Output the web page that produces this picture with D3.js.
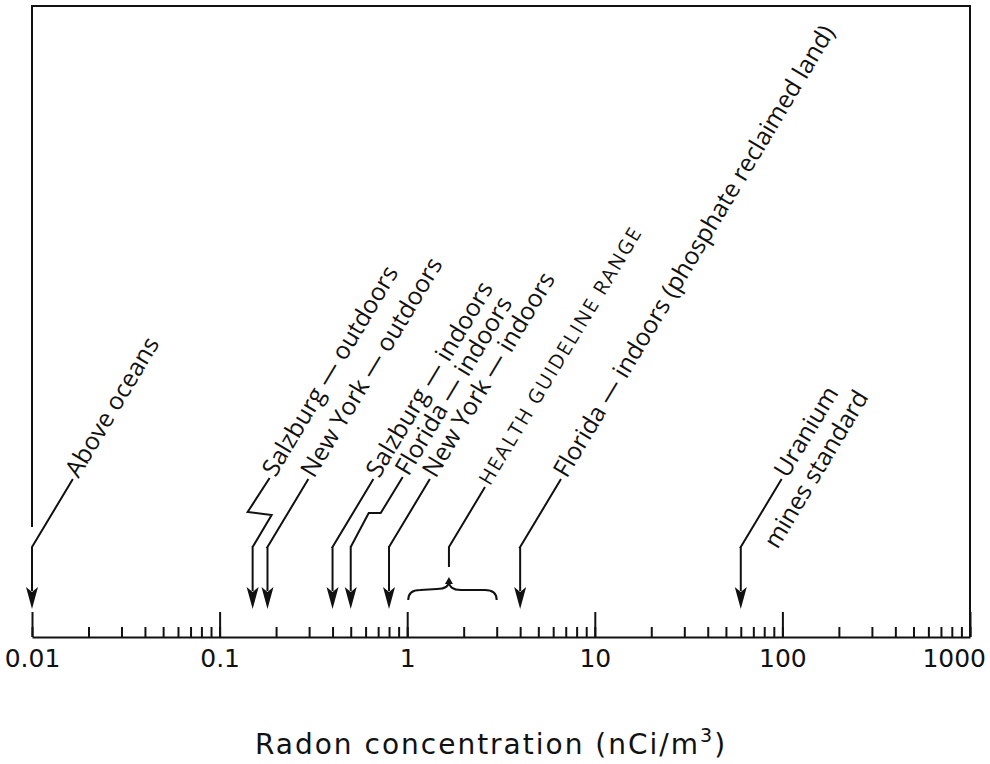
<!DOCTYPE html>
<html>
<head>
  <meta charset="utf-8">
  <title>Radon concentration</title>
  <script src="https://d3js.org/d3.v7.min.js"></script>
  <style>
    body { margin: 0; background: #fff; }
    .lbl { font-family: 'Open Sans', sans-serif; font-size: 24.5px; fill: #111; }
    .caps { font-family: 'Open Sans', sans-serif; font-size: 20px; letter-spacing: 2px; fill: #111; }
    .axis text { font-family: 'DejaVu Sans', sans-serif; font-size: 25px; fill: #111; }
    .axis line, .axis path { stroke: #111; stroke-width: 2px; }
    .title { font-family: 'DejaVu Sans', sans-serif; font-size: 28px; letter-spacing: 2px; fill: #111; }
  </style>
</head>
<body>
  <div id="chart"></div>
  <script>
    // sources and their radon levels (nCi/m3)
    const sources = ["Above oceans", "Salzburg — outdoors", "New York — outdoors",
      "Salzburg — indoors", "Florida — indoors", "New York — indoors",
      "Florida — indoors (phosphate reclaimed land)", "Uranium\nmines standard"];
    const levels = [0.01, 0.15, 0.18, 0.4, 0.5, 0.8, 4, 60];
    // how each leader line bends
    const leaderKind = ["plain", "zig", "plain", "plain", "step", "plain", "plain", "plain"];

    const guideRange = [1, 3];
    const guideLabel = "HEALTH GUIDELINE RANGE";

    const decades = [0.01, 0.1, 1, 10, 100, 1000];
    const axisTitle = "Radon concentration (nCi/m";

    const W = 990, H = 764;
    const axisY = 637, frameTop = 6;
    const tipY = 609, bendY = 547, headLen = 22, headHalf = 6;
    const ang = 59 * Math.PI / 180;
    const rise = 68;

    const svg = d3.select("#chart").append("svg")
      .attr("width", W).attr("height", H);
    svg.append("rect").attr("width", W).attr("height", H).attr("fill", "#fff");

    const x = d3.scaleLog().domain([0.01, 1000]).range([32, 970]);

    // frame (left side stops above the first leader)
    const x0 = x.range()[0], x1 = x.range()[1];
    svg.append("path")
      .attr("d", `M${x0},527 L${x0},${frameTop} L${x1},${frameTop} L${x1},${axisY}`)
      .attr("fill", "none").attr("stroke", "#111").attr("stroke-width", 2);

    // minor ticks
    svg.append("g").attr("class", "axis")
      .attr("transform", `translate(0,${axisY})`)
      .call(d3.axisBottom(x).tickSizeInner(-10).tickSizeOuter(0).tickFormat(""));
    // decade ticks with labels
    const major = svg.append("g").attr("class", "axis")
      .attr("transform", `translate(0,${axisY})`)
      .call(d3.axisBottom(x).tickValues(decades).tickSizeInner(-25).tickSizeOuter(0)
        .tickPadding(12).tickFormat(d => String(d)));
    major.select(".domain").remove();
    major.selectAll(".tick text").each(function () {
      const t = d3.select(this);
      const w = this.getComputedTextLength();
      const tr = this.parentNode.getAttribute("transform");
      const tx = +tr.match(/translate\(([-\d.]+)/)[1];
      if (tx + w / 2 > W - 4) t.attr("x", W - 4 - w / 2 - tx);
      if (tx - w / 2 < 2) t.attr("x", 2 + w / 2 - tx);
    });

    const title = svg.append("text").attr("class", "title")
      .attr("x", (x0 + x1) / 2 - 10).attr("y", 754).attr("text-anchor", "middle");
    title.append("tspan").text(axisTitle);
    title.append("tspan").attr("dy", -12).attr("font-size", 19).text("3");
    title.append("tspan").attr("dy", 12).text(")");

    const ink = svg.append("g");

    function arrowHead(px) {
      ink.append("path")
        .attr("d", `M${px},${tipY} L${px - headHalf},${tipY - headLen} L${px},${tipY - headLen + 5} L${px + headHalf},${tipY - headLen} Z`)
        .attr("fill", "#111");
    }

    function leaderPath(px, kind) {
      const run = rise / Math.tan(ang);
      if (kind === "zig") {
        return [[px, bendY], [px + 19, bendY - 32], [px - 5, bendY - 35], [px + 17, bendY - 69]];
      }
      if (kind === "step") {
        return [[px, bendY], [px + 18, bendY - 34], [px + 30, bendY - 34], [px + 52, bendY - 70]];
      }
      return [[px, bendY], [px + run, bendY - rise]];
    }

    function placeLabel(end, lines, cls) {
      const g = ink.append("g")
        .attr("transform", `translate(${end[0] + 3 * Math.cos(ang)},${end[1] - 3 * Math.sin(ang)}) rotate(${-59})`);
      const first = g.append("text").attr("class", cls).attr("dy", "0.2em").text(lines[0]);
      if (lines.length > 1) {
        const len = first.node().getComputedTextLength();
        g.append("text").attr("class", cls).attr("x", len + 12).attr("y", 28)
          .attr("dy", "0.2em").attr("text-anchor", "end").text(lines[1]);
      }
    }

    const line = d3.line();

    levels.forEach((v, i) => {
      const px = x(v);
      const pts = leaderPath(px, leaderKind[i]);
      ink.append("path")
        .attr("d", `M${px},${tipY - headLen + 4} L${px},${bendY} ` + line(pts).replace(/^M/, "L"))
        .attr("fill", "none").attr("stroke", "#111").attr("stroke-width", 2);
      arrowHead(px);
      placeLabel(pts[pts.length - 1], sources[i].split("\n"), "lbl");
    });

    // health guideline brace
    const bx1 = x(guideRange[0]) + 1, bx2 = x(guideRange[1]);
    const bm = x(Math.sqrt(guideRange[0] * guideRange[1])) - 3;
    ink.append("path")
      .attr("d", `M${bx1},600 Q${bx1},590 ${bx1 + 12},590 L${bm - 12},589 Q${bm},589 ${bm},581 ` +
        `Q${bm},590 ${bm + 12},590 L${bx2 - 12},590 Q${bx2},590 ${bx2},600`)
      .attr("fill", "none").attr("stroke", "#111").attr("stroke-width", 2);
    ink.append("path")
      .attr("d", `M${bm},577 L${bm - 4},584 L${bm + 4},584 Z`).attr("fill", "#111");
    const gRun = 60 / Math.tan(ang);
    ink.append("path")
      .attr("d", `M${bm},567 L${bm},${bendY} L${bm + gRun},${bendY - 60}`)
      .attr("fill", "none").attr("stroke", "#111").attr("stroke-width", 2);
    placeLabel([bm + gRun, bendY - 60], [guideLabel], "caps");
  </script>
</body>
</html>
